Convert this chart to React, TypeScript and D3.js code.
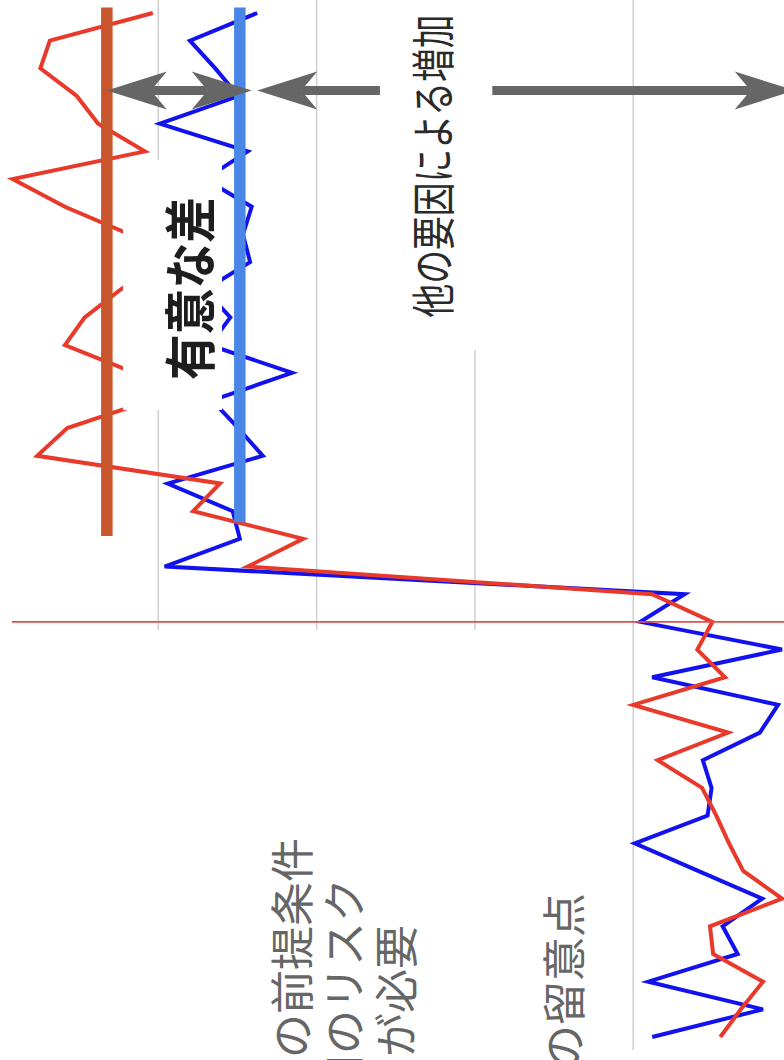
import React from "react";
import * as d3 from "d3";

// time index (0..37), treatment at period 15
const periods: number[] = d3.range(38);
const treatmentPeriod = 15;

// treated group (red) values, in time order
const treatedValues: number[] = [
  9.0, 6.4, 3.6, 9.9, 10.3, 1.2, 6.1, 7.9, 9.5, 11.3, 16.9, 8.0, 20.0, 8.4, 11.9, 10.0, 17.6,
  68.7, 61.7, 75.6, 72.2, 95.3, 91.5, 81.0, 83.0, 91.8, 89.3, 84.8, 79.8, 83.6, 91.8, 98.4, 81.7,
  87.6, 90.3, 94.9, 93.7, 80.7,
];
// control group (blue) values, in time order
const controlValues: number[] = [
  17.6, 3.6, 18.1, 6.8, 8.7, 3.7, 11.8, 19.8, 10.6, 10.1, 11.2, 4.0, 1.7, 17.6, 1.2, 19.1, 13.5,
  79.2, 69.7, 70.6, 78.8, 66.8, 69.9, 73.2, 63.1, 73.5, 70.9, 74.1, 68.4, 69.3, 68.2, 74.1, 68.7,
  79.8, 69.9, 72.8, 76.0, 67.5,
];

// post-period mean levels
const meanNames: string[] = ["treated", "control"];
const meanValues: number[] = [86.5, 69.7];
const meanStart: number[] = [18.1, 18.6];
const meanEnd: number[] = [37.2, 37.2];

const gridValues: number[] = [80, 60, 40, 20];

// annotation arrows (period, from value, to value, double-headed)
const arrowPeriod = 34.2;
const arrowFrom: number[] = [86.5, 52.0, 37.8];
const arrowTo: number[] = [68.2, 67.5, -0.4];
const arrowDouble: boolean[] = [true, false, false];

const labelSignificant = "有意な差";
const labelOther = "他の要因による増加";
const noteLines: string[] = ["の前提条件", "用のリスク", "が必要"];
const noteCaution = "の留意点";

const W = 1060; // chart drawn unrotated, then rotated -90deg
const H = 784;

const x = d3.scaleLinear().domain([0, 37]).range([23, 1047]);
const y = d3.scaleLinear().domain([0, 100]).range([791.5, 0]);

const COLORS = {
  red: "#e8392b",
  blue: "#1212ee",
  redMean: "#c8552b",
  blueMean: "#4a86e8",
  grid: "#cfcfcf",
  treat: "#e0504f",
  arrow: "#666666",
};

const FONT = "'Noto Sans CJK JP', 'Noto Sans', sans-serif";

function Arrow({ x1, y1, x2, y2, both }: { x1: number; y1: number; x2: number; y2: number; both: boolean }) {
  const len = Math.hypot(x2 - x1, y2 - y1);
  const dx = (x2 - x1) / len;
  const dy = (y2 - y1) / len;
  const nx = -dy;
  const ny = dx;
  const L = 60, Wd = 19, N = 44;
  const head = (px: number, py: number, ux: number, uy: number) =>
    [
      [px, py],
      [px - L * ux + Wd * nx, py - L * uy + Wd * ny],
      [px - N * ux, py - N * uy],
      [px - L * ux - Wd * nx, py - L * uy - Wd * ny],
    ]
      .map((p) => p.join(","))
      .join(" ");
  const sx1 = both ? x1 + N * dx : x1;
  const sy1 = both ? y1 + N * dy : y1;
  const sx2 = x2 - N * dx;
  const sy2 = y2 - N * dy;
  return (
    <g>
      <line x1={sx1} y1={sy1} x2={sx2} y2={sy2} stroke={COLORS.arrow} strokeWidth={9} />
      <polygon points={head(x2, y2, dx, dy)} fill={COLORS.arrow} />
      {both && <polygon points={head(x1, y1, -dx, -dy)} fill={COLORS.arrow} />}
    </g>
  );
}

export default function App() {
  const line = d3
    .line<number>()
    .x((_, i) => x(periods[i]))
    .y((d) => y(d));

  return (
    <svg
      width={784}
      height={1060}
      style={{ position: "absolute", left: 0, top: 0, background: "#fff" }}
    >
      <rect width={784} height={1060} fill="#fff" />
      <g transform={`translate(0,${W}) rotate(-90)`}>
        {/* gridlines */}
        {gridValues.map((v) => (
          <line key={v} x1={10} x2={W} y1={y(v)} y2={y(v)} stroke={COLORS.grid} strokeWidth={1.5} />
        ))}
        {/* white panel over lower pre-period text area */}
        <rect x={0} y={0} width={430} height={600} fill="#fff" />

        {/* data lines */}
        <path d={line(controlValues) || ""} fill="none" stroke={COLORS.blue} strokeWidth={4} />
        <path d={line(treatedValues) || ""} fill="none" stroke={COLORS.red} strokeWidth={4} />

        {/* treatment line */}
        <line
          x1={x(treatmentPeriod)}
          x2={x(treatmentPeriod)}
          y1={12}
          y2={H}
          stroke={COLORS.treat}
          strokeWidth={1.6}
        />

        {/* label backgrounds */}
        <rect x={650} y={123} width={250} height={99} fill="#fff" />
        <rect x={710} y={388} width={360} height={100} fill="#fff" />

        {/* mean lines */}
        {meanNames.map((n, i) => (
          <line
            key={n}
            x1={x(meanStart[i])}
            x2={x(meanEnd[i])}
            y1={y(meanValues[i])}
            y2={y(meanValues[i])}
            stroke={i === 0 ? COLORS.redMean : COLORS.blueMean}
            strokeWidth={11.5}
          />
        ))}

        {/* arrows */}
        {arrowFrom.map((v, i) => (
          <Arrow
            key={i}
            x1={x(arrowPeriod)}
            y1={y(v)}
            x2={x(arrowPeriod)}
            y2={y(arrowTo[i])}
            both={arrowDouble[i]}
          />
        ))}

        {/* texts */}
        <text
          transform="translate(771.5,187) scale(0.88,1)"
          textAnchor="middle"
          dominantBaseline="central"
          fontFamily={FONT}
          fontWeight={700}
          fontSize={52}
          fill="#1e1e1e"
        >
          {labelSignificant}
        </text>
        <text
          transform="translate(894,431) scale(0.768,1)"
          textAnchor="middle"
          dominantBaseline="central"
          fontFamily={FONT}
          fontSize={44}
          fill="#2a2a2a"
        >
          {labelOther}
        </text>
        {noteLines.map((t, i) => (
          <text
            key={t}
            x={[222, 182, 135][i]}
            y={290 + i * 52}
            textAnchor="end"
            dominantBaseline="central"
            fontFamily={FONT}
            fontSize={44}
            fill="#666"
          >
            {t}
          </text>
        ))}
        <text
          x={167}
          y={562}
          textAnchor="end"
          dominantBaseline="central"
          fontFamily={FONT}
          fontSize={44}
          fill="#666"
        >
          {noteCaution}
        </text>
      </g>
    </svg>
  );
}
